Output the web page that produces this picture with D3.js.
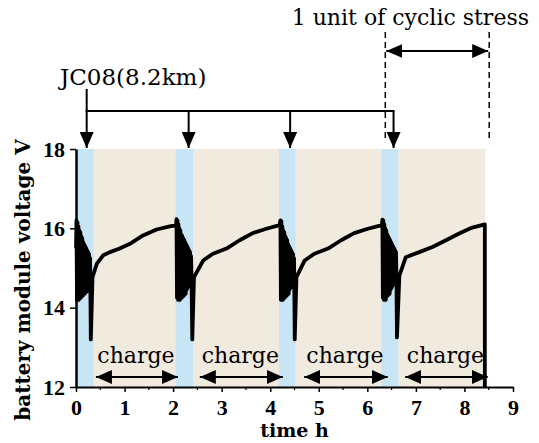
<!DOCTYPE html>
<html>
<head>
<meta charset="utf-8">
<script src="https://cdn.jsdelivr.net/npm/d3@7"></script>
<style>
    body { margin: 0; background: #fff; }
    svg { display: block; }
    .axis path, .axis line { stroke: #000; }
    .axis .tick text { font-family: "Liberation Serif", serif; font-weight: bold; font-size: 22px; fill: #000; }
    .note { font-family: "DejaVu Serif", serif; font-size: 22px; fill: #000; }
    .title { font-family: "DejaVu Serif", serif; font-weight: bold; fill: #000; }
</style>
</head>
<body>
<svg id="chart" width="539" height="443"></svg>
<script>
(function() {
    // voltage record, [time h, voltage V], one array per drive + charge cycle
    const cycle1 = [
        [0.000, 15.5], [0.010, 16.2], [0.020, 14.2], [0.030, 16.15], [0.040, 14.25], [0.050, 16.05],
        [0.060, 14.2], [0.070, 15.95], [0.080, 14.3], [0.090, 15.9], [0.100, 14.25], [0.110, 15.8],
        [0.120, 14.35], [0.130, 15.75], [0.140, 14.3], [0.150, 15.65], [0.160, 14.4], [0.170, 15.6],
        [0.180, 14.35], [0.190, 15.55], [0.200, 14.45], [0.210, 15.5], [0.220, 14.4], [0.230, 15.45],
        [0.240, 14.5], [0.250, 15.4], [0.260, 14.55], [0.270, 15.35], [0.280, 14.6], [0.290, 15.25],
        [0.296, 14.5], [0.305, 13.2], [0.340, 14.77],
        [0.43, 15.11], [0.56, 15.32], [0.70, 15.40], [0.90, 15.49], [1.11, 15.61], [1.38, 15.82],
        [1.66, 15.97], [1.93, 16.05], [2.06, 16.08]
    ];
    const cycle2 = [
        [2.070, 16.23], [2.080, 14.25], [2.090, 16.2], [2.100, 14.2], [2.110, 16.1], [2.120, 14.3],
        [2.130, 16.0], [2.140, 14.2], [2.150, 15.95], [2.160, 14.3], [2.170, 15.85], [2.180, 14.25],
        [2.190, 15.8], [2.200, 14.35], [2.210, 15.75], [2.220, 14.3], [2.230, 15.7], [2.240, 14.4],
        [2.250, 15.65], [2.260, 14.35], [2.270, 15.6], [2.280, 14.45], [2.290, 15.55], [2.300, 14.5],
        [2.310, 15.5], [2.320, 14.55], [2.330, 15.45], [2.340, 14.6], [2.350, 15.4], [2.360, 14.65],
        [2.370, 15.3], [2.380, 14.7], [2.395, 13.2], [2.430, 14.77],
        [2.62, 15.19], [2.82, 15.36], [3.10, 15.49], [3.37, 15.70], [3.64, 15.88], [3.92, 15.99],
        [4.19, 16.08]
    ];
    const cycle3 = [
        [4.210, 16.2], [4.220, 14.2], [4.230, 16.18], [4.240, 14.25], [4.250, 16.05], [4.260, 14.2],
        [4.270, 15.95], [4.280, 14.3], [4.290, 15.9], [4.300, 14.25], [4.310, 15.8], [4.320, 14.35],
        [4.330, 15.75], [4.340, 14.3], [4.350, 15.7], [4.360, 14.4], [4.370, 15.6], [4.380, 14.35],
        [4.390, 15.55], [4.400, 14.45], [4.410, 15.5], [4.420, 14.5], [4.430, 15.45], [4.440, 14.55],
        [4.450, 15.4], [4.460, 14.6], [4.470, 15.35], [4.480, 14.65], [4.490, 15.25], [4.495, 14.7],
        [4.505, 13.2], [4.540, 14.77],
        [4.71, 15.19], [4.91, 15.36], [5.19, 15.49], [5.46, 15.70], [5.73, 15.88], [6.01, 15.99],
        [6.30, 16.08]
    ];
    const cycle4 = [
        [6.310, 16.22], [6.320, 14.25], [6.330, 16.2], [6.340, 14.2], [6.350, 16.1], [6.360, 14.3],
        [6.370, 16.0], [6.380, 14.2], [6.390, 15.95], [6.400, 14.3], [6.410, 15.85], [6.420, 14.3],
        [6.430, 15.8], [6.440, 14.4], [6.450, 15.75], [6.460, 14.35], [6.470, 15.7], [6.480, 14.45],
        [6.490, 15.65], [6.500, 14.5], [6.510, 15.6], [6.520, 14.55], [6.530, 15.55], [6.540, 14.6],
        [6.550, 15.5], [6.560, 14.65], [6.570, 15.45], [6.580, 14.7], [6.590, 15.4], [6.600, 14.75],
        [6.610, 13.25], [6.660, 14.81],
        [6.79, 15.27], [7.07, 15.40], [7.34, 15.53], [7.62, 15.70], [7.89, 15.87], [8.16, 16.02],
        [8.42, 16.10], [8.42, 12.0]
    ];

    const driveBands = [[0, 0.36], [2.05, 2.41], [4.18, 4.52], [6.29, 6.64]];
    const recordSpan = [0, 8.43];
    const chargeArrows = [[0.41, 2.10], [2.55, 4.26], [4.70, 6.42], [6.78, 8.48]];
    const jc08Arrows = [0.22, 2.32, 4.41, 6.54];
    const cycleUnit = [6.37, 8.51];
    const xTicks = [0, 1, 2, 3, 4, 5, 6, 7, 8, 9];
    const xMinorTicks = [0.5, 1.5, 2.5, 3.5, 4.5, 5.5, 6.5, 7.5, 8.5];
    const yTicks = [12, 14, 16, 18];

    const svg = d3.select("#chart"),
        margin = { top: 149, right: 26, bottom: 56, left: 76 },
        width = +svg.attr("width") - margin.left - margin.right,
        height = +svg.attr("height") - margin.top - margin.bottom;

    const x = d3.scaleLinear().domain([0, 9]).range([margin.left, margin.left + width]);
    const y = d3.scaleLinear().domain([12, 18]).range([margin.top + height, margin.top]);

    const defs = svg.append("defs");
    function marker(id, w, h) {
        defs.append("marker")
            .attr("id", id)
            .attr("viewBox", `0 0 ${w} ${h}`)
            .attr("refX", w).attr("refY", h / 2)
            .attr("markerWidth", w).attr("markerHeight", h)
            .attr("markerUnits", "userSpaceOnUse")
            .attr("orient", "auto-start-reverse")
            .append("path")
            .attr("d", `M0,0L${w},${h / 2}L0,${h}Z`)
            .attr("fill", "#000");
    }
    marker("head", 16, 14);

    // backgrounds
    svg.append("rect")
        .attr("x", x(recordSpan[0]))
        .attr("y", y(18))
        .attr("width", x(recordSpan[1]) - x(recordSpan[0]))
        .attr("height", y(12) - y(18))
        .attr("fill", "#f1eadf");

    svg.selectAll(".band")
        .data(driveBands)
        .enter().append("rect")
        .attr("class", "band")
        .attr("x", d => x(d[0]))
        .attr("y", y(18))
        .attr("width", d => x(d[1]) - x(d[0]))
        .attr("height", y(12) - y(18))
        .attr("fill", "#c8e5f6");

    // voltage trace
    const line = d3.line().x(d => x(d[0])).y(d => y(d[1]));
    svg.append("path")
        .datum(cycle1.concat(cycle2, cycle3, cycle4))
        .attr("d", line)
        .attr("fill", "none")
        .attr("stroke", "#000")
        .attr("stroke-width", 3.8)
        .attr("stroke-linejoin", "round");

    // axes
    const xAxis = svg.append("g")
        .attr("class", "axis")
        .attr("transform", `translate(0,${y(12)})`)
        .call(d3.axisBottom(x).tickValues(xTicks).tickFormat(d3.format("d"))
            .tickSize(5).tickPadding(7).tickSizeOuter(0));
    xAxis.select(".domain").attr("stroke-width", 2);
    xAxis.selectAll(".tick line").attr("stroke-width", 1.5);
    xAxis.selectAll(".minor")
        .data(xMinorTicks)
        .enter().append("line")
        .attr("class", "minor")
        .attr("x1", d => x(d)).attr("x2", d => x(d))
        .attr("y1", 0).attr("y2", 3)
        .attr("stroke", "#000").attr("stroke-width", 1.2);

    const yAxis = svg.append("g")
        .attr("class", "axis")
        .attr("transform", `translate(${x(0)},0)`)
        .call(d3.axisLeft(y).tickValues(yTicks).tickFormat(d3.format("d"))
            .tickSize(6).tickPadding(5).tickSizeOuter(0));
    yAxis.select(".domain").attr("stroke-width", 2.5);
    yAxis.selectAll(".tick line").attr("stroke-width", 1.5);

    svg.selectAll(".axis .tick text")
        .style("font-family", "Liberation Serif")
        .style("font-weight", "bold")
        .style("font-size", "22px");

    svg.append("text")
        .attr("class", "title")
        .attr("x", (x(0) + x(9)) / 2)
        .attr("y", 437)
        .attr("text-anchor", "middle")
        .style("font-size", "19px")
        .text("time h");

    svg.append("text")
        .attr("class", "title")
        .attr("transform", "translate(30,280) rotate(-90)")
        .attr("text-anchor", "middle")
        .style("font-size", "20px")
        .text("battery module voltage V");

    // charge arrows
    const arrowY = 377;
    svg.selectAll(".charge-arrow")
        .data(chargeArrows)
        .enter().append("line")
        .attr("class", "charge-arrow")
        .attr("x1", d => x(d[0])).attr("x2", d => x(d[1]))
        .attr("y1", arrowY).attr("y2", arrowY)
        .attr("stroke", "#000").attr("stroke-width", 2)
        .attr("marker-start", "url(#head)")
        .attr("marker-end", "url(#head)");

    svg.selectAll(".charge-label")
        .data(chargeArrows)
        .enter().append("text")
        .attr("class", "note")
        .attr("x", d => (x(d[0]) + x(d[1])) / 2 - 1)
        .attr("y", 363)
        .attr("text-anchor", "middle")
        .text("charge");

    // JC08 bracket
    const bracketY = 111;
    svg.append("text")
        .attr("class", "note")
        .attr("x", 60)
        .attr("y", 85)
        .style("font-size", "23px")
        .text("JC08(8.2km)");

    svg.append("line")
        .attr("x1", x(jc08Arrows[0])).attr("x2", x(jc08Arrows[0]))
        .attr("y1", 89).attr("y2", bracketY)
        .attr("stroke", "#000").attr("stroke-width", 2);

    svg.append("line")
        .attr("x1", x(jc08Arrows[0]) - 1).attr("x2", x(jc08Arrows[jc08Arrows.length - 1]) + 1)
        .attr("y1", bracketY).attr("y2", bracketY)
        .attr("stroke", "#000").attr("stroke-width", 2);

    svg.selectAll(".jc08-arrow")
        .data(jc08Arrows)
        .enter().append("line")
        .attr("class", "jc08-arrow")
        .attr("x1", d => x(d)).attr("x2", d => x(d))
        .attr("y1", bracketY).attr("y2", y(18) - 1)
        .attr("stroke", "#000").attr("stroke-width", 2)
        .attr("marker-end", "url(#head)");

    // one unit of cyclic stress
    svg.selectAll(".unit-dash")
        .data(cycleUnit)
        .enter().append("line")
        .attr("class", "unit-dash")
        .attr("x1", d => x(d)).attr("x2", d => x(d))
        .attr("y1", 32).attr("y2", 138)
        .attr("stroke", "#000").attr("stroke-width", 1.5)
        .attr("stroke-dasharray", "6,4");

    svg.append("line")
        .attr("x1", x(cycleUnit[0]) + 1).attr("x2", x(cycleUnit[1]) - 1)
        .attr("y1", 51).attr("y2", 51)
        .attr("stroke", "#000").attr("stroke-width", 2)
        .attr("marker-start", "url(#head)")
        .attr("marker-end", "url(#head)");

    svg.append("text")
        .attr("class", "note")
        .attr("x", 529)
        .attr("y", 25)
        .attr("text-anchor", "end")
        .text("1 unit of cyclic stress");
})();
</script>
</body>
</html>
